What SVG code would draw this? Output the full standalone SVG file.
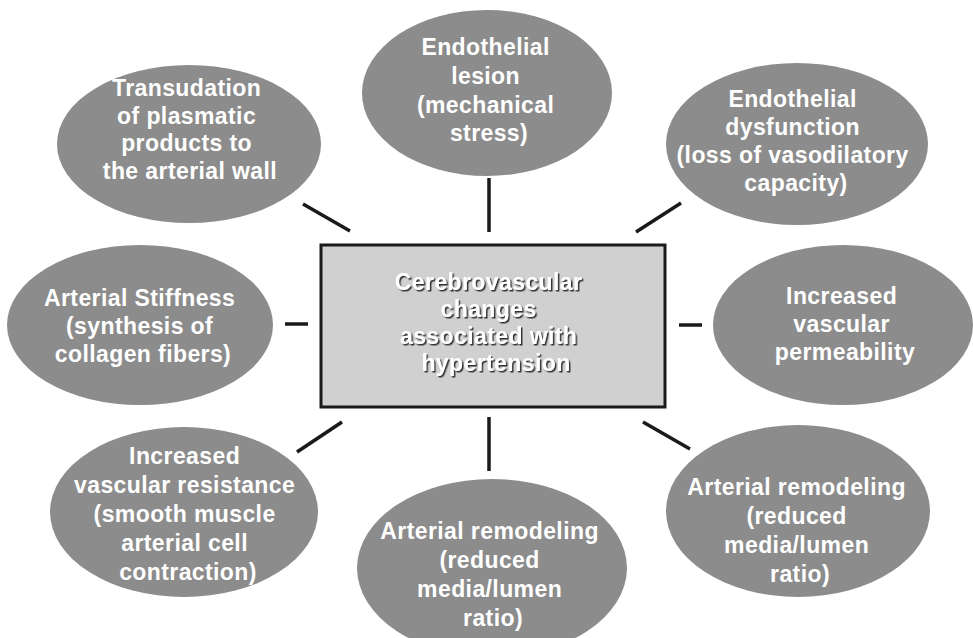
<svg xmlns="http://www.w3.org/2000/svg" width="973" height="638" viewBox="0 0 973 638">
<style>
.bg{fill:#ffffff}
.ell{fill:#8c8c8c}
.lbl{font-family:"Liberation Sans",Arial,sans-serif;font-weight:bold;font-size:23px;fill:#ffffff;text-anchor:middle;letter-spacing:0.4px}
.ctr{font-family:"Liberation Sans",Arial,sans-serif;font-weight:bold;font-size:23px;fill:#ffffff;text-anchor:middle;letter-spacing:0.4px}
.box{fill:#d0d0d0;stroke:#1a1a1a;stroke-width:3}
.con{stroke:#1a1a1a;stroke-width:3.5;fill:none}
</style>
<defs>
<filter id="shadow" x="-10%" y="-10%" width="120%" height="130%">
<feDropShadow dx="1.5" dy="1.5" stdDeviation="0.6" flood-color="#333333" flood-opacity="1"/>
</filter>
</defs>
<rect class="bg" x="0" y="0" width="973" height="638"/>

<g id="connectors">
<line class="con" x1="303" y1="204" x2="350" y2="231"/>
<line class="con" x1="489" y1="178" x2="489" y2="232"/>
<line class="con" x1="636" y1="232" x2="681" y2="203"/>
<line class="con" x1="285" y1="324" x2="308" y2="324"/>
<line class="con" x1="679" y1="325" x2="702" y2="325"/>
<line class="con" x1="297" y1="452" x2="342" y2="422"/>
<line class="con" x1="489" y1="417" x2="489" y2="471"/>
<line class="con" x1="643" y1="422" x2="690" y2="449"/>
</g>

<g id="center">
<rect class="box" x="321" y="245" width="344" height="162"/>
<text class="ctr" filter="url(#shadow)">
<tspan x="492" y="290">Cerebrovascular</tspan>
<tspan x="492" y="317">changes</tspan>
<tspan x="492" y="344">associated with</tspan>
<tspan x="496" y="371">hypertension</tspan>
</text>
</g>

<g id="n-lesion">
<ellipse class="ell" cx="487" cy="93" rx="125" ry="83"/>
<text class="lbl">
<tspan x="489" y="55">Endothelial</tspan>
<tspan x="489" y="84">lesion</tspan>
<tspan x="489" y="113">(mechanical</tspan>
<tspan x="489" y="141">stress)</tspan>
</text>
</g>

<g id="n-transudation">
<ellipse class="ell" cx="189" cy="144" rx="132" ry="79"/>
<text class="lbl">
<tspan x="190" y="96">Transudation</tspan>
<tspan x="190" y="124">of plasmatic</tspan>
<tspan x="190" y="151">products to</tspan>
<tspan x="190" y="179">the arterial wall</tspan>
</text>
</g>

<g id="n-dysfunction">
<ellipse class="ell" cx="797" cy="144" rx="131" ry="81"/>
<text class="lbl">
<tspan x="796" y="107">Endothelial</tspan>
<tspan x="796" y="135">dysfunction</tspan>
<tspan x="796" y="163">(loss of vasodilatory</tspan>
<tspan x="796" y="191">capacity)</tspan>
</text>
</g>

<g id="n-stiffness">
<ellipse class="ell" cx="140" cy="325" rx="133" ry="80"/>
<text class="lbl">
<tspan x="143" y="306">Arterial Stiffness</tspan>
<tspan x="143" y="334">(synthesis of</tspan>
<tspan x="143" y="362">collagen fibers)</tspan>
</text>
</g>

<g id="n-permeability">
<ellipse class="ell" cx="843" cy="325" rx="130" ry="80"/>
<text class="lbl">
<tspan x="845" y="304">Increased</tspan>
<tspan x="845" y="332">vascular</tspan>
<tspan x="845" y="360">permeability</tspan>
</text>
</g>

<g id="n-resistance">
<ellipse class="ell" cx="184" cy="512" rx="134" ry="85"/>
<text class="lbl">
<tspan x="188" y="464">Increased</tspan>
<tspan x="188" y="493">vascular resistance</tspan>
<tspan x="188" y="522">(smooth muscle</tspan>
<tspan x="188" y="551">arterial cell</tspan>
<tspan x="188" y="580">contraction)</tspan>
</text>
</g>

<g id="n-remodeling-bottom">
<ellipse class="ell" cx="492" cy="568" rx="135" ry="89"/>
<text class="lbl">
<tspan x="493" y="539">Arterial remodeling</tspan>
<tspan x="493" y="568">(reduced</tspan>
<tspan x="493" y="597">media/lumen</tspan>
<tspan x="493" y="626">ratio)</tspan>
</text>
</g>

<g id="n-remodeling-right">
<ellipse class="ell" cx="798" cy="511" rx="132" ry="86"/>
<text class="lbl">
<tspan x="800" y="495">Arterial remodeling</tspan>
<tspan x="800" y="524">(reduced</tspan>
<tspan x="800" y="553">media/lumen</tspan>
<tspan x="800" y="582">ratio)</tspan>
</text>
</g>
</svg>
